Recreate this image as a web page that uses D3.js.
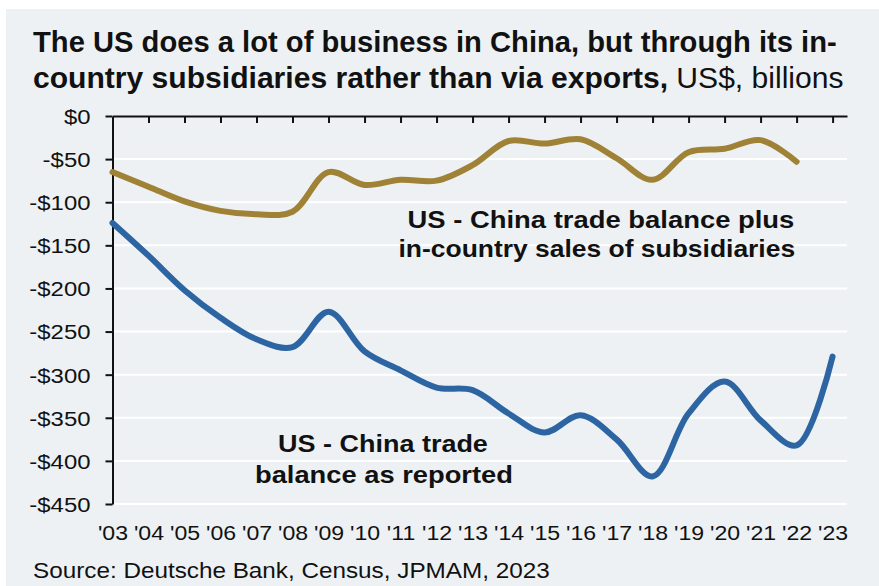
<!DOCTYPE html>
<html>
<head>
<meta charset="utf-8">
<script src="https://cdn.jsdelivr.net/npm/d3@7"></script>
<style>
  html, body { margin: 0; padding: 0; background: #fff; }
  svg { display: block; font-family: "Liberation Sans", Arial, Helvetica, sans-serif; }
</style>
</head>
<body>
<svg width="879" height="586"></svg>
<script>
// years on the x axis
var years = d3.range(2003, 2024);
var yearLabels = years.map(function(y) { return "'" + String(y).slice(2); });

// US - China trade balance as reported, US$ bn
var reported = [-124, -162, -202, -234, -259, -268, -227, -273, -295, -315, -318,
                -345, -367, -347, -375, -418, -345, -308, -353, -382, -279];

// trade balance plus in-country sales of subsidiaries (ends 2022)
var plusSubs = [-65, -82, -99, -110, -114, -111, -65, -80, -74, -75, -57,
                -29, -32, -27, -49, -74, -42, -38, -28, -53];

var yTicks = [0, -50, -100, -150, -200, -250, -300, -350, -400, -450];

var svg = d3.select("svg");

svg.append("rect")
    .attr("x", 6).attr("y", 9)
    .attr("width", 873).attr("height", 577)
    .attr("fill", "#edf1f4");

var x = d3.scaleLinear().domain([2003, 2023.4]).range([112.5, 847]);
var y = d3.scaleLinear().domain([0, -450]).range([116, 504]);

// stretch text horizontally so it spans a given width
function fit(sel, width, anchor) {
  sel.each(function() {
    var t = d3.select(this);
    var w = this.getComputedTextLength();
    var px = +t.attr("x"), py = +t.attr("y");
    var k = width / w;
    var dx = anchor === "middle" ? -width / 2 : 0;
    t.attr("x", 0).attr("y", 0)
     .attr("transform", "translate(" + (px + dx) + "," + py + ") scale(" + k + ",1)");
  });
}

// title
var t1 = svg.append("text").attr("x", 33).attr("y", 52)
    .attr("font-size", 29).attr("font-weight", "bold").attr("fill", "#111")
    .text("The US does a lot of business in China, but through its in-");
fit(t1, 804);
var t2 = svg.append("text").attr("x", 33).attr("y", 88)
    .attr("font-size", 29).attr("fill", "#111");
t2.append("tspan").attr("font-weight", "bold").text("country subsidiaries rather than via exports,");
t2.append("tspan").text(" US$, billions");
fit(t2, 811);

// grid lines
svg.append("g").selectAll("line")
  .data(yTicks.slice(1))
  .enter().append("line")
    .attr("x1", x(2003)).attr("x2", x(2023.4))
    .attr("y1", function(d) { return y(d); })
    .attr("y2", function(d) { return y(d); })
    .attr("stroke", "#fff").attr("stroke-width", 2);

// y axis
var yAxis = svg.append("g")
    .attr("transform", "translate(" + x(2003) + ",0)")
    .call(d3.axisLeft(y).tickValues(yTicks).tickSize(7).tickSizeOuter(0)
      .tickFormat(function(d) { return d === 0 ? "$0" : "-$" + Math.abs(d); }));
yAxis.select(".domain").attr("stroke", "#111").attr("stroke-width", 2);
yAxis.selectAll(".tick line").attr("stroke", "#111").attr("stroke-width", 2);
yAxis.selectAll(".tick text")
    .attr("font-size", 21).attr("fill", "#111").attr("font-family", null)
    .attr("x", 0).attr("dy", "0.35em")
    .attr("transform", "translate(-22,0) scale(1.14,1)");

// top axis line at zero with year ticks
var topAxis = svg.append("g")
    .attr("transform", "translate(0," + y(0) + ")")
    .call(d3.axisBottom(x).tickValues(years.slice(1)).tickSize(7).tickSizeOuter(0).tickFormat(""));
topAxis.select(".domain").attr("stroke", "#111").attr("stroke-width", 2);
topAxis.selectAll(".tick line").attr("stroke", "#111").attr("stroke-width", 2);

// year labels along the bottom
var botAxis = svg.append("g")
    .attr("transform", "translate(0," + y(-450) + ")")
    .call(d3.axisBottom(x).tickValues(years).tickSize(0)
      .tickFormat(function(d, i) { return yearLabels[i]; }));
botAxis.select(".domain").remove();
botAxis.selectAll(".tick text")
    .attr("font-size", 21).attr("fill", "#111").attr("font-family", null)
    .attr("y", 0).attr("dy", 0)
    .attr("transform", "translate(0,36) scale(1.1,1)");

// lines
var line = d3.line()
    .x(function(d, i) { return x(years[i]); })
    .y(function(d) { return y(d); })
    .curve(d3.curveCatmullRom.alpha(0.5));

svg.append("path").datum(plusSubs)
    .attr("d", line).attr("fill", "none")
    .attr("stroke", "#9f8236").attr("stroke-width", 6)
    .attr("stroke-linecap", "round").attr("stroke-linejoin", "round");

svg.append("path").datum(reported)
    .attr("d", line).attr("fill", "none")
    .attr("stroke", "#2c65a2").attr("stroke-width", 6)
    .attr("stroke-linecap", "round").attr("stroke-linejoin", "round");

// annotations
function label(txt, cx, by, w) {
  var s = svg.append("text").attr("x", cx).attr("y", by)
      .attr("font-size", 23).attr("font-weight", "bold").attr("fill", "#111")
      .text(txt);
  fit(s, w, "middle");
}
label("US - China trade balance plus", 601, 228, 387);
label("in-country sales of subsidiaries", 597, 257, 397);
label("US - China trade", 383, 452, 210);
label("balance as reported", 384, 483, 258);

// source
var src = svg.append("text").attr("x", 33).attr("y", 578)
    .attr("font-size", 22).attr("fill", "#111")
    .text("Source: Deutsche Bank, Census, JPMAM, 2023");
fit(src, 517);
</script>
</body>
</html>
